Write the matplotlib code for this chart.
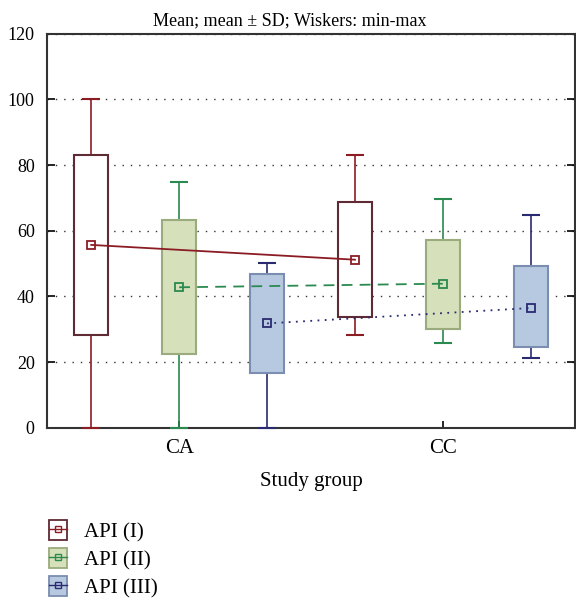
import numpy as np
import matplotlib.pyplot as plt
from matplotlib.patches import Patch
from matplotlib.lines import Line2D

plt.rcParams['font.family'] = ['Liberation Serif', 'DejaVu Serif']

groups = ["CA", "CC"]
series = ["API (I)", "API (II)", "API (III)"]

# per series: values for CA, CC
means = {"API (I)": [55.7, 51.2], "API (II)": [42.8, 43.9], "API (III)": [31.8, 36.5]}
sd_hi = {"API (I)": [83.2, 68.8], "API (II)": [63.2, 57.3], "API (III)": [46.8, 49.2]}
sd_lo = {"API (I)": [28.2, 33.8], "API (II)": [22.6, 30.0], "API (III)": [16.6, 24.7]}
mins = {"API (I)": [0, 28.3], "API (II)": [0, 25.8], "API (III)": [0, 21.3]}
maxs = {"API (I)": [100, 83.2], "API (II)": [75, 69.6], "API (III)": [50.2, 64.8]}

offsets = [-1/3, 0, 1/3]
fills = ["white", "#d6e1bb", "#b7c9e1"]
edges = ["#5e2a33", "#9aab7d", "#7b8db0"]
lcols = ["#8b1c24", "#2a8a4f", "#2a2a70"]
lstyles = ["-", (0, (6, 4)), (0, (1, 3))]

fig = plt.figure(figsize=(5.76, 6.01), dpi=100)
ax = fig.add_axes([0.082, 0.288, 0.916, 0.656])

x = np.arange(len(groups))
bw = 0.13
cw = 0.035
for i, s in enumerate(series):
    xs = x + offsets[i]
    lo = np.array(sd_lo[s]); hi = np.array(sd_hi[s])
    ax.vlines(xs, mins[s], lo, color=lcols[i], lw=1.2, zorder=2)
    ax.vlines(xs, hi, maxs[s], color=lcols[i], lw=1.2, zorder=2)
    ax.hlines(mins[s], xs - cw, xs + cw, color=lcols[i], lw=1.5, zorder=5, clip_on=False)
    ax.hlines(maxs[s], xs - cw, xs + cw, color=lcols[i], lw=1.5, zorder=2)
    ax.bar(xs, hi - lo, bottom=lo, width=bw, color=fills[i], edgecolor=edges[i],
           linewidth=1.5, zorder=3)
    ax.plot(xs, means[s], color=lcols[i], linestyle=lstyles[i], lw=1.3, zorder=4,
            marker="s", markersize=6, markerfacecolor="none", markeredgecolor=lcols[i],
            markeredgewidth=1.3)

ax.set_xlim(-0.5, 1.5)
ax.set_ylim(0, 120)
ax.set_yticks(range(0, 121, 20))
ax.set_xticks(x)
ax.set_xticklabels(groups)
ax.tick_params(axis="y", direction="in", right=True, length=6, width=1.2, labelsize=13, pad=9)
ax.tick_params(axis="x", direction="in", length=5, width=1.2, labelsize=15, pad=8)
ax.yaxis.grid(True, linestyle=(0, (1, 5)), color="#333333", lw=1)
for sp in ax.spines.values():
    sp.set_linewidth(1.5)
    sp.set_color("#333333")
ax.set_axisbelow(True)
ax.set_title("Mean; mean ± SD; Wiskers: min-max", fontsize=13, pad=6, x=0.46)
ax.set_xlabel("Study group", fontsize=15, labelpad=10)

handles = []
for i in range(3):
    handles.append((Patch(facecolor=fills[i], edgecolor=edges[i], lw=1.3),
                    Line2D([], [], color=lcols[i], marker="s", markersize=5,
                           markerfacecolor="none", markeredgecolor=lcols[i], lw=1)))
fig.legend(handles, series, loc="upper left", bbox_to_anchor=(0.07, 0.148),
           frameon=False, fontsize=15, handlelength=0.9, handleheight=1.1,
           labelspacing=0.28, handletextpad=0.8, borderaxespad=0)

fig.savefig("out.png", dpi=100)
